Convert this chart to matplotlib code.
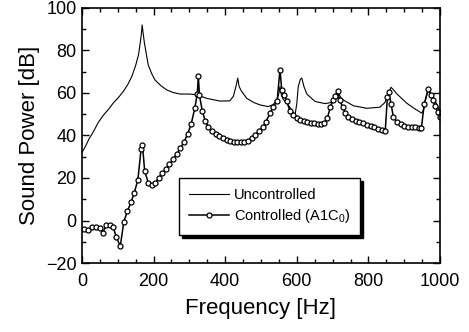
import matplotlib
matplotlib.use("Agg")
import matplotlib.pyplot as plt
from matplotlib.ticker import MultipleLocator

plt.rcParams['font.family'] = ['Liberation Sans', 'DejaVu Sans']
plt.rcParams['mathtext.default'] = 'regular'

# uncontrolled sound power (thin line)
freq_unc = [0, 10, 20, 32, 45, 60, 75, 87, 100, 115, 128, 139, 150, 158, 163, 166, 168,
            171, 174, 178, 185, 195, 204, 220, 237, 255, 274, 300, 320, 348, 385, 413,
            423, 430, 435, 439, 445, 460, 480, 497, 520, 534, 545, 550, 553, 557, 562,
            576, 595, 600, 604, 610, 614, 620, 628, 651, 679, 695, 705, 712, 716, 722,
            730, 758, 795, 832, 846, 855, 863, 870, 880, 907, 930, 949, 955, 960, 967,
            972, 981, 990, 1000]
power_unc = [32, 35, 38.5, 41.8, 46, 49.6, 52.5, 55.2, 57.5, 60.6, 64, 67.7, 73, 78, 84, 88, 92,
             88, 84, 80, 73.2, 69, 66.1, 63.5, 61.4, 60.2, 59.5, 59.5, 59.2, 57.5, 56.2, 56.3,
             58.5, 63, 67, 63, 61, 57.5, 55.5, 54.4, 53.6, 54.5, 57, 60, 63, 59, 57,
             54.4, 49.6, 55, 63, 66.5, 67, 63, 59.5, 56, 55, 55.5, 57.5, 59.5, 60.6, 58,
             56.7, 54, 52.8, 53.3, 55.5, 59, 62.7, 61.5, 59.5, 55.2, 52.5, 50.5, 52.5, 57, 62,
             60.5, 58, 55, 51]

# controlled (A1C0) sound power (line with open circles)
freq_ctl = [5, 17, 28, 40, 50, 58, 68, 78, 87, 96, 107, 117, 127, 137, 146, 156, 165, 169,
            175, 185, 195, 205, 214, 224, 235, 244, 255, 265, 275, 285, 295, 305, 315, 322,
            325, 328, 336, 344, 353, 362, 373, 383, 393, 404, 413, 424, 434, 444, 453, 464,
            474, 484, 494, 505, 514, 525, 534, 545, 553, 558, 565, 572, 581, 590, 600, 609,
            620, 629, 639, 648, 658, 668, 677, 685, 694, 701, 707, 714, 720, 728, 735, 744,
            753, 764, 774, 784, 795, 806, 816, 827, 837, 847, 853, 857, 863, 870, 880, 890,
            900, 910, 921, 931, 940, 948, 956, 967, 974, 980, 986, 993, 1000]
power_ctl = [-3.8, -4.5, -3.2, -2.9, -3.5, -5.7, -2.3, -2.2, -3, -7.9, -12, -0.5, 4.5, 8.5, 13.1, 19, 33.5, 35.5,
             23.4, 17.8, 16.8, 17.8, 19.9, 22.2, 24.2, 26.6, 28.8, 31.3, 34.1, 36.9, 40.7, 45.4, 52.8, 59.5,
             68, 59, 51.5, 47, 44.1, 42.3, 40.7, 39.8, 38.8, 37.9, 37.4, 37.1, 36.9, 36.8, 37.1, 37.6,
             38.8, 40.3, 41.9, 44.1, 46.5, 50.5, 53.6, 56, 71, 61.4, 59, 56, 51.5, 49.5, 48.3, 47.5,
             46.8, 46.4, 46.1, 45.8, 45.6, 45.6, 46, 48, 53.6, 56.5, 58.6, 61, 56.5, 53.5, 50.7, 48.8,
             47.6, 46.9, 46.4, 45.9, 45, 44.5, 43.9, 43.1, 42.6, 42, 58, 60.5, 55, 48.5, 46.2, 45.2,
             44.6, 44.2, 44, 43.9, 43.6, 43.5, 55, 61.7, 59, 56.7, 54, 51.2, 48.6]

fig = plt.figure(figsize=(4.69, 3.32), dpi=100)
ax = fig.add_axes([0.1748, 0.2078, 0.7634, 0.7682])

ax.plot(freq_unc, power_unc, color='black', lw=0.8, label='Uncontrolled')
ax.plot(freq_ctl, power_ctl, color='black', lw=1.1, marker='o', markersize=3.6,
        markerfacecolor='white', markeredgewidth=0.9, label='Controlled (A1C$_0$)')

ax.set_xlim(0, 1000)
ax.set_ylim(-20, 100)
ax.xaxis.set_major_locator(MultipleLocator(200))
ax.xaxis.set_minor_locator(MultipleLocator(50))
ax.yaxis.set_major_locator(MultipleLocator(20))
ax.yaxis.set_minor_locator(MultipleLocator(10))
ax.tick_params(which='both', direction='in', top=True, right=True, width=1)
ax.tick_params(which='major', length=5, labelsize=13)
ax.tick_params(axis='x', which='major', pad=7)
ax.tick_params(axis='y', which='major', pad=4)
ax.tick_params(which='minor', length=3)
for s in ax.spines.values():
    s.set_linewidth(1.2)

ax.set_xlabel('Frequency [Hz]', fontsize=16, labelpad=6)
ax.set_ylabel('Sound Power [dB]', fontsize=16, labelpad=4)

leg = ax.legend(loc='upper left', bbox_to_anchor=(0.271, 0.333), borderaxespad=0,
                fontsize=10.5, handlelength=2.7, handletextpad=0.35, labelspacing=0.3,
                borderpad=0.7, fancybox=False, framealpha=1, edgecolor='black',
                shadow={'color': 'black', 'alpha': 1})
leg.get_frame().set_linewidth(1.0)

plt.savefig('out.png', dpi=100)
